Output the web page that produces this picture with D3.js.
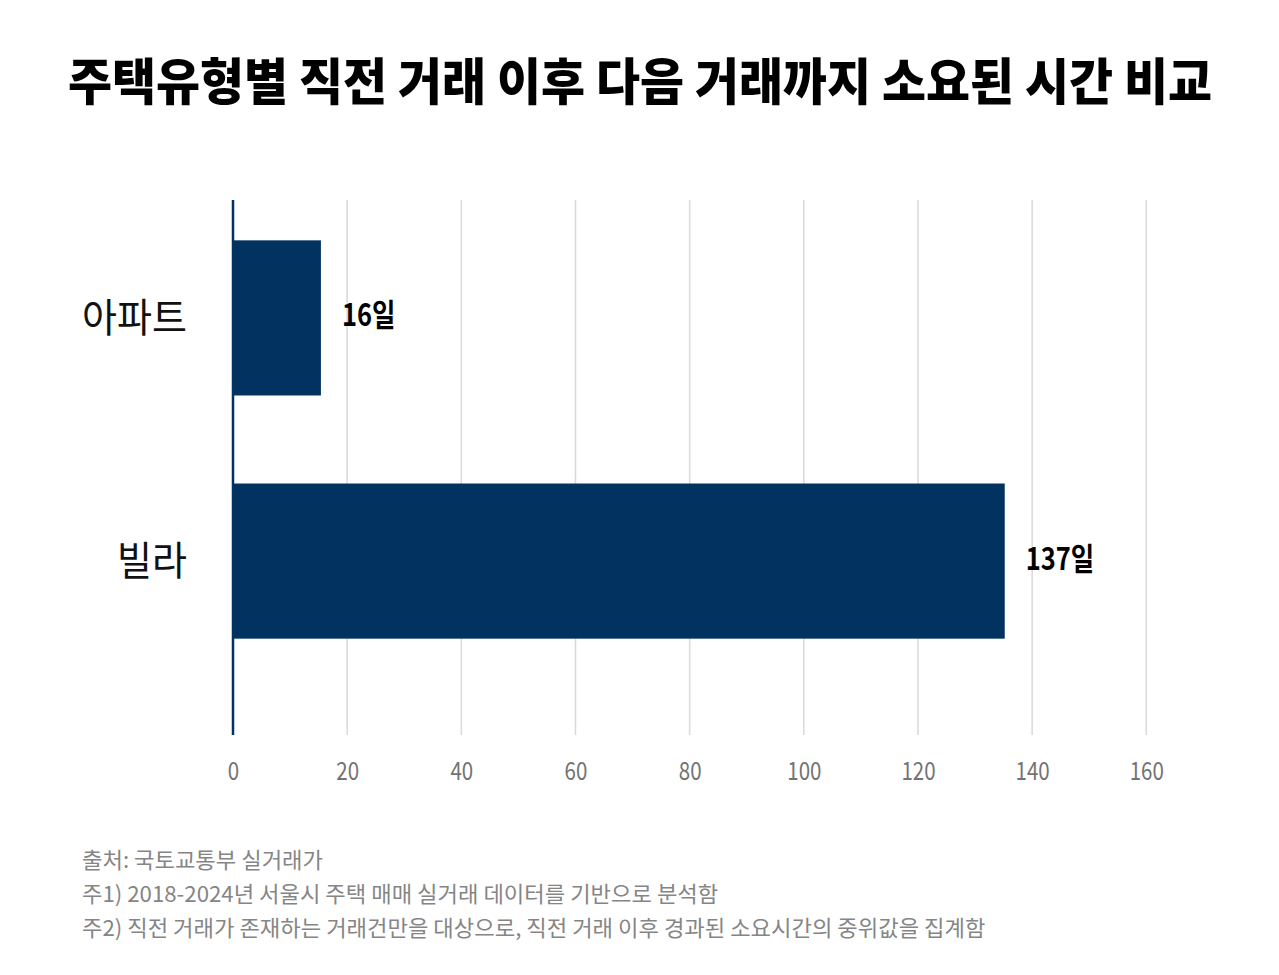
<!DOCTYPE html>
<meta charset="utf-8">
<script src="https://d3js.org/d3.v7.min.js"></script>
<style>
  body { margin: 0; background: #fff; }
  text { font-family: "Noto Sans CJK KR", "Noto Sans", sans-serif; }
</style>
<body>
<div id="chart"></div>
<script>

  // data
  var categories = ["아파트", "빌라"];
  var barValues = [15.4, 135.2];          // bar lengths as drawn
  var valueLabels = ["16일", "137일"];     // labels printed next to bars
  var xTicks = [0, 20, 40, 60, 80, 100, 120, 140, 160];

  var titleText = "주택유형별 직전 거래 이후 다음 거래까지 소요된 시간 비교";
  var notes = [
    "출처: 국토교통부 실거래가",
    "주1) 2018-2024년 서울시 주택 매매 실거래 데이터를 기반으로 분석함",
    "주2) 직전 거래가 존재하는 거래건만을 대상으로, 직전 거래 이후 경과된 소요시간의 중위값을 집계함"
  ];

  var W = 1279, H = 975;
  var navy = "#02325f";

  var svg = d3.select("#chart")
    .append("svg")
      .attr("width", W)
      .attr("height", H);

  // squeeze text horizontally (reference font is condensed)
  function squeeze(sel, factor) {
    sel.each(function() {
      var w = this.getComputedTextLength();
      d3.select(this)
        .attr("textLength", w * factor)
        .attr("lengthAdjust", "spacingAndGlyphs");
    });
  }

  // title
  svg.append("text")
      .attr("x", 68)
      .attr("y", 78)
      .attr("dominant-baseline", "central")
      .attr("font-size", 50)
      .attr("font-weight", 900)
      .attr("fill", "#000")
      .attr("textLength", 1144)
      .attr("lengthAdjust", "spacingAndGlyphs")
      .text(titleText);

  // scales
  var x = d3.scaleLinear()
      .domain([0, 160])
      .range([233, 1146.3]);

  var y = d3.scaleBand()
      .domain(categories)
      .range([199, 680])
      .paddingInner(0.362)
      .paddingOuter(0.17);

  var plotTop = 200, plotBottom = 735;

  // grid lines
  svg.append("g")
    .selectAll("line")
    .data(xTicks.slice(1))
    .join("line")
      .attr("x1", function(d) { return x(d); })
      .attr("x2", function(d) { return x(d); })
      .attr("y1", plotTop)
      .attr("y2", plotBottom)
      .attr("stroke", "#d9d9d9")
      .attr("stroke-width", 1.5);

  // x axis labels
  var xAxis = svg.append("g")
      .attr("transform", "translate(0," + 769 + ")")
      .call(d3.axisBottom(x).tickValues(xTicks).tickSize(0).tickPadding(0));
  xAxis.select(".domain").remove();
  xAxis.selectAll("text")
      .attr("dy", null)
      .attr("y", 0)
      .attr("dominant-baseline", "central")
      .attr("font-family", "'Noto Sans', sans-serif")
      .attr("font-size", 25)
      .attr("fill", "#737373")
      .call(squeeze, 0.82);

  // bars
  svg.append("g")
    .selectAll("rect")
    .data(categories)
    .join("rect")
      .attr("x", x(0))
      .attr("y", function(d) { return y(d); })
      .attr("width", function(d, i) { return x(barValues[i]) - x(0); })
      .attr("height", y.bandwidth())
      .attr("fill", navy);

  // vertical axis line
  svg.append("line")
      .attr("x1", x(0))
      .attr("x2", x(0))
      .attr("y1", plotTop)
      .attr("y2", plotBottom)
      .attr("stroke", navy)
      .attr("stroke-width", 2.5);

  // category labels
  svg.append("g")
    .selectAll("text")
    .data(categories)
    .join("text")
      .attr("x", 187)
      .attr("y", function(d) { return y(d) + y.bandwidth() / 2 - 3; })
      .attr("text-anchor", "end")
      .attr("dominant-baseline", "central")
      .attr("font-size", 40)
      .attr("fill", "#111")
      .text(function(d) { return d; })
      .call(squeeze, 0.95);

  // value labels
  svg.append("g")
    .selectAll("text")
    .data(categories)
    .join("text")
      .attr("x", function(d, i) { return x(barValues[i]) + 21; })
      .attr("y", function(d) { return y(d) + y.bandwidth() / 2 - 5; })
      .attr("dominant-baseline", "central")
      .attr("font-size", 31)
      .attr("font-weight", 700)
      .attr("fill", "#000")
      .text(function(d, i) { return valueLabels[i]; })
      .call(squeeze, 0.82);

  // footnotes
  svg.append("g")
    .selectAll("text")
    .data(notes)
    .join("text")
      .attr("x", 82)
      .attr("y", function(d, i) { return 858 + i * 34; })
      .attr("dominant-baseline", "central")
      .attr("font-size", 22)
      .attr("fill", "#858585")
      .text(function(d) { return d; })
      .call(squeeze, 1.01);

</script>
</body>
